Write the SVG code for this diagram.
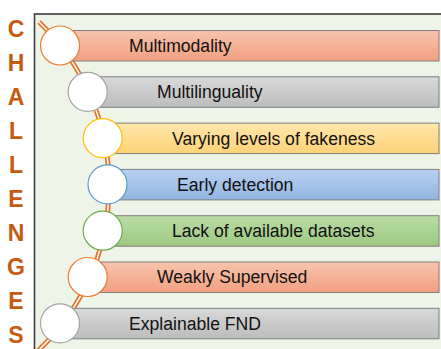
<svg xmlns="http://www.w3.org/2000/svg" width="441" height="349" viewBox="0 0 441 349">
  <defs>
    <linearGradient id="gOrange" x1="0" y1="0" x2="0" y2="1">
      <stop offset="0" stop-color="#f7c4ae"/>
      <stop offset="1" stop-color="#f29f80"/>
    </linearGradient>
    <linearGradient id="gGray" x1="0" y1="0" x2="0" y2="1">
      <stop offset="0" stop-color="#d9d9d9"/>
      <stop offset="1" stop-color="#bcbcbc"/>
    </linearGradient>
    <linearGradient id="gGold" x1="0" y1="0" x2="0" y2="1">
      <stop offset="0" stop-color="#ffe7ab"/>
      <stop offset="1" stop-color="#fed277"/>
    </linearGradient>
    <linearGradient id="gBlue" x1="0" y1="0" x2="0" y2="1">
      <stop offset="0" stop-color="#b8d0ef"/>
      <stop offset="1" stop-color="#93b4e2"/>
    </linearGradient>
    <linearGradient id="gGreen" x1="0" y1="0" x2="0" y2="1">
      <stop offset="0" stop-color="#badca6"/>
      <stop offset="1" stop-color="#9cc981"/>
    </linearGradient>
  </defs>
  <style>
    .frame { fill: #eef5e8; stroke: #3f3f3f; stroke-width: 1.6; }
    .side { font-family: "Liberation Sans", Arial, sans-serif; font-weight: bold; font-size: 23px; fill: #c55a11; text-anchor: middle; }
    .bar { stroke: #7f7f7f; stroke-width: 1; }
    .label { font-family: "Liberation Sans", Arial, sans-serif; font-size: 17.6px; fill: #111111; }
    .dot { fill: #ffffff; stroke-width: 1.2; }
    .rail { fill: none; stroke: #e2772f; stroke-width: 5; }
    .rail-core { fill: none; stroke: #ffffff; stroke-width: 1.4; }
  </style>

  <!-- panel -->
  <rect class="frame" x="34.5" y="14" width="420" height="350"/>

  <!-- vertical title -->
  <g id="title">
    <text class="side" x="16" y="37">C</text>
    <text class="side" x="16" y="71">H</text>
    <text class="side" x="16" y="105">A</text>
    <text class="side" x="16" y="139">L</text>
    <text class="side" x="16" y="173">L</text>
    <text class="side" x="16" y="207">E</text>
    <text class="side" x="16" y="241">N</text>
    <text class="side" x="16" y="275">G</text>
    <text class="side" x="16" y="309">E</text>
    <text class="side" x="16" y="343">S</text>
  </g>

  <!-- curved double rail linking the items -->
  <g id="connectors">
    <path class="rail" d="M39,22 A226.8,226.8 0 0 1 36.7,352"/>
    <path class="rail-core" d="M39,22 A226.8,226.8 0 0 1 36.7,352"/>
  </g>

  <g id="multimodality">
    <rect class="bar" x="60" y="30.5" width="379" height="30.5" fill="url(#gOrange)"/>
    <circle class="dot" cx="60" cy="45.5" r="19.5" stroke="#ed7d31"/>
    <text class="label" x="129" y="51.9">Multimodality</text>
  </g>

  <g id="multilinguality">
    <rect class="bar" x="87.7" y="76.8" width="351.3" height="30.5" fill="url(#gGray)"/>
    <circle class="dot" cx="87.7" cy="91.8" r="19.5" stroke="#a5a5a5"/>
    <text class="label" x="157" y="98.2">Multilinguality</text>
  </g>

  <g id="fakeness">
    <rect class="bar" x="102.7" y="123.1" width="336.3" height="30.5" fill="url(#gGold)"/>
    <circle class="dot" cx="102.7" cy="138.1" r="19.5" stroke="#ffc000"/>
    <text class="label" x="172" y="144.5">Varying levels of fakeness</text>
  </g>

  <g id="early-detection">
    <rect class="bar" x="107.5" y="169.4" width="331.5" height="30.5" fill="url(#gBlue)"/>
    <circle class="dot" cx="107.5" cy="184.4" r="19.5" stroke="#5b9bd5"/>
    <text class="label" x="177" y="190.8">Early detection</text>
  </g>

  <g id="datasets">
    <rect class="bar" x="102.7" y="215.7" width="336.3" height="30.5" fill="url(#gGreen)"/>
    <circle class="dot" cx="102.7" cy="230.7" r="19.5" stroke="#70ad47"/>
    <text class="label" x="172" y="237.1">Lack of available datasets</text>
  </g>

  <g id="weakly-supervised">
    <rect class="bar" x="87.7" y="262" width="351.3" height="30.5" fill="url(#gOrange)"/>
    <circle class="dot" cx="87.7" cy="277" r="19.5" stroke="#ed7d31"/>
    <text class="label" x="157" y="283.4">Weakly Supervised</text>
  </g>

  <g id="explainable">
    <rect class="bar" x="60" y="308.3" width="379" height="30.5" fill="url(#gGray)"/>
    <circle class="dot" cx="60" cy="323.3" r="19.5" stroke="#a5a5a5"/>
    <text class="label" x="129" y="329.7">Explainable FND</text>
  </g>
</svg>
